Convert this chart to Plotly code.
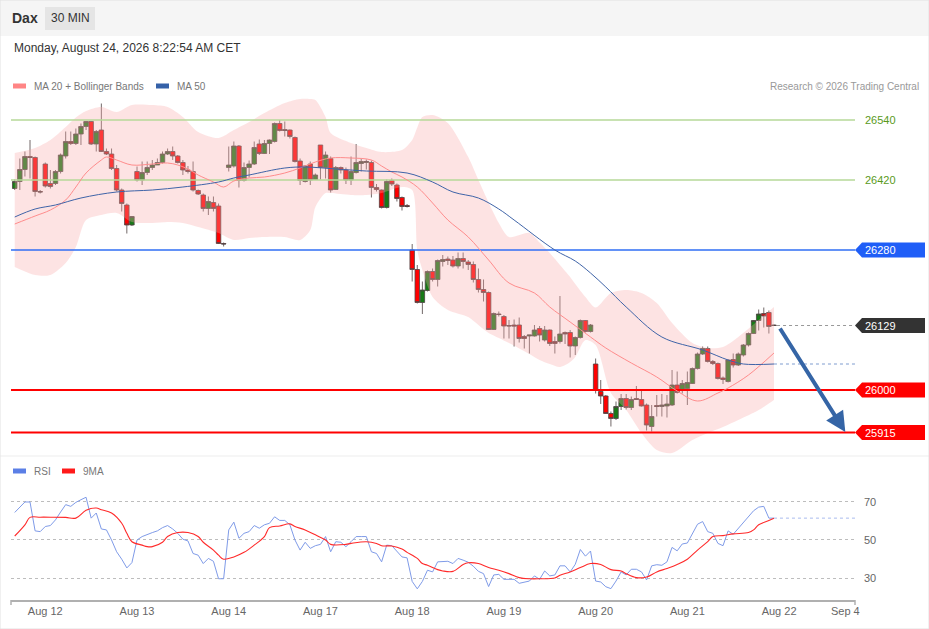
import plotly.graph_objects as go

W, H = 929, 629

# ---- price candles (30 min), index = candle number
candle_idx = list(range(1, 151))
opens = [26403, 26417, 26441, 26467, 26465, 26397, 26452, 26413, 26413, 26437,
         26468, 26497, 26493, 26512, 26527, 26537, 26492, 26520, 26477, 26472,
         26443, 26400, 26370, 26330, 26437, 26420, 26435, 26445, 26450, 26455,
         26472, 26477, 26468, 26455, 26440, 26437, 26399, 26390, 26363, 26375,
         26368, 26293, 26445, 26448, 26488, 26419, 26445, 26452, 26492, 26473,
         26493, 26497, 26533, 26521, 26520, 26505, 26458, 26417, 26452, 26421,
         26490, 26445, 26463, 26401, 26445, 26440, 26420, 26435, 26453, 26455,
         26455, 26405, 26400, 26365, 26419, 26410, 26385, 26369, 26280, 26241,
         26175, 26199, 26237, 26221, 26257, 26262, 26260, 26248, 26263, 26256,
         26251, 26221, 26201, 26195, 26121, 26152, 26147, 26129, 26130, 26130,
         26107, 26108, 26108, 26123, 26100, 26120, 26097, 26097, 26115, 26115,
         26088, 26105, 26139, 26117, 26052, 25997, 25988, 25953, 25943, 25967,
         25983, 25965, 25983, 25981, 25970, 25927, 25969, 25967, 25968, 25970,
         26010, 25999, 26003, 26013, 26043, 26072, 26083, 26057, 26053, 26024,
         26017, 26061, 26050, 26070, 26090, 26113, 26139, 26153, 26155, 26130]
highs = [26421, 26463, 26477, 26500, 26467, 26400, 26455, 26440, 26440, 26473,
         26517, 26517, 26523, 26533, 26538, 26538, 26520, 26573, 26483, 26483,
         26450, 26403, 26373, 26348, 26447, 26457, 26457, 26460, 26463, 26477,
         26483, 26487, 26470, 26460, 26448, 26457, 26401, 26393, 26387, 26387,
         26373, 26295, 26487, 26497, 26490, 26455, 26459, 26497, 26501, 26500,
         26501, 26535, 26540, 26537, 26521, 26507, 26463, 26450, 26457, 26433,
         26490, 26477, 26467, 26448, 26447, 26445, 26467, 26492, 26463, 26461,
         26459, 26412, 26401, 26421, 26423, 26413, 26387, 26372, 26292, 26250,
         26217, 26239, 26243, 26261, 26270, 26267, 26268, 26275, 26275, 26260,
         26257, 26243, 26221, 26197, 26155, 26157, 26150, 26140, 26141, 26145,
         26110, 26110, 26130, 26128, 26128, 26121, 26107, 26188, 26117, 26120,
         26107, 26141, 26140, 26132, 26063, 26020, 25990, 25957, 25977, 25992,
         25992, 25987, 26008, 26001, 25973, 25970, 25990, 25992, 25990, 26040,
         26037, 26020, 26037, 26045, 26075, 26087, 26087, 26060, 26055, 26027,
         26061, 26073, 26075, 26092, 26115, 26140, 26161, 26165, 26159, 26131]
lows = [26400, 26400, 26427, 26423, 26387, 26393, 26405, 26403, 26410, 26433,
        26463, 26490, 26490, 26490, 26520, 26490, 26477, 26476, 26470, 26440,
        26397, 26357, 26313, 26328, 26417, 26410, 26430, 26440, 26450, 26453,
        26470, 26460, 26453, 26430, 26433, 26397, 26390, 26357, 26350, 26357,
        26292, 26287, 26437, 26445, 26405, 26417, 26425, 26450, 26470, 26472,
        26472, 26495, 26517, 26507, 26503, 26455, 26410, 26415, 26410, 26420,
        26421, 26423, 26395, 26400, 26433, 26412, 26410, 26433, 26437, 26441,
        26385, 26397, 26363, 26363, 26408, 26377, 26359, 26365, 26217, 26173,
        26152, 26197, 26217, 26207, 26247, 26250, 26245, 26243, 26243, 26240,
        26215, 26195, 26177, 26120, 26120, 26147, 26103, 26103, 26087, 26095,
        26083, 26073, 26107, 26097, 26097, 26088, 26073, 26093, 26092, 26065,
        26070, 26103, 26115, 26115, 25993, 25972, 25952, 25927, 25940, 25960,
        25961, 25960, 25980, 25967, 25919, 25917, 25947, 25947, 25945, 25968,
        25993, 25993, 25970, 26012, 26041, 26070, 26055, 26050, 26021, 26012,
        26015, 26045, 26048, 26067, 26087, 26112, 26119, 26125, 26113, 26128]
closes = [26417, 26441, 26467, 26465, 26397, 26396, 26408, 26407, 26437, 26470,
          26497, 26493, 26512, 26527, 26537, 26492, 26517, 26477, 26472, 26443,
          26400, 26373, 26330, 26347, 26420, 26435, 26445, 26450, 26455, 26472,
          26477, 26468, 26455, 26440, 26437, 26400, 26392, 26363, 26377, 26363,
          26293, 26292, 26450, 26488, 26419, 26445, 26452, 26485, 26473, 26493,
          26500, 26533, 26519, 26519, 26507, 26457, 26419, 26448, 26420, 26430,
          26445, 26470, 26400, 26445, 26440, 26420, 26437, 26455, 26457, 26457,
          26405, 26401, 26365, 26417, 26412, 26383, 26367, 26367, 26241, 26175,
          26200, 26237, 26221, 26259, 26261, 26259, 26248, 26263, 26257, 26251,
          26221, 26201, 26195, 26121, 26153, 26151, 26128, 26128, 26128, 26103,
          26103, 26110, 26120, 26110, 26120, 26093, 26093, 26112, 26112, 26088,
          26105, 26139, 26117, 26130, 25999, 25988, 25953, 25943, 25967, 25983,
          25965, 25981, 25981, 25968, 25930, 25947, 25967, 25970, 25972, 26010,
          25995, 26013, 26015, 26043, 26072, 26083, 26057, 26053, 26023, 26021,
          26060, 26050, 26072, 26090, 26113, 26139, 26152, 26148, 26127, 26129]

# ---- Bollinger band (MA 20 +/- 2 sd)
band_idx = [1, 5, 8, 11, 13, 15, 18, 21, 24, 28, 31, 34, 37, 41, 44, 47, 50, 54, 57, 59,
            60, 62, 63, 67, 70, 73, 77, 79, 80, 81, 83, 86, 90, 92, 94, 96, 98, 102, 104, 106,
            108, 110, 111, 113, 115, 118, 121, 124, 127, 130, 134, 137, 140, 143, 147, 150]
band_upper = [26474, 26484, 26500, 26526, 26545, 26558, 26566, 26556, 26570, 26570,
              26566, 26546, 26516, 26504, 26520, 26536, 26554, 26574, 26582, 26582,
              26580, 26546, 26514, 26494, 26484, 26476, 26480, 26500, 26525, 26546,
              26550, 26534, 26466, 26420, 26375, 26334, 26306, 26314, 26295, 26274,
              26250, 26226, 26212, 26186, 26165, 26194, 26200, 26194, 26174, 26134,
              26094, 26084, 26086, 26106, 26140, 26166]
band_lower = [26246, 26230, 26230, 26254, 26286, 26340, 26350, 26354, 26336, 26334,
              26336, 26334, 26326, 26314, 26300, 26304, 26306, 26306, 26300, 26320,
              26366, 26394, 26394, 26390, 26390, 26394, 26406, 26400, 26280, 26240,
              26186, 26160, 26146, 26130, 26114, 26104, 26094, 26072, 26060, 26052,
              26046, 26056, 26066, 26100, 26090, 25994, 25960, 25914, 25880, 25874,
              25900, 25914, 25926, 25940, 25960, 25980]

ma20_idx = [1, 5, 8, 11, 13, 15, 18, 19, 21, 24, 28, 31, 33, 35, 37, 40, 42, 44, 47, 50,
            54, 57, 60, 63, 67, 71, 73, 75, 77, 80, 83, 86, 90, 94, 98, 103, 106, 110, 114, 117,
            122, 127, 131, 135, 139, 141, 145, 150]
ma20 = [26332, 26348, 26360, 26380, 26406, 26434, 26460, 26466, 26460, 26450,
        26452, 26454, 26450, 26442, 26430, 26416, 26406, 26418, 26424, 26426,
        26434, 26444, 26456, 26464, 26464, 26460, 26448, 26436, 26426, 26406,
        26374, 26340, 26306, 26260, 26214, 26194, 26166, 26136, 26106, 26084,
        26054, 26026, 25998, 25978, 25994, 26004, 26030, 26074]

ma50_idx = [1, 5, 9, 14, 21, 28, 34, 41, 44, 47, 54, 58, 64, 70, 78, 83, 87, 92, 96, 99,
            107, 111, 114, 117, 121, 128, 136, 141, 144, 150]
ma50 = [26346, 26362, 26370, 26384, 26396, 26400, 26406, 26416, 26424, 26430,
        26444, 26446, 26442, 26438, 26434, 26416, 26396, 26384, 26362, 26340,
        26280, 26258, 26234, 26206, 26166, 26106, 26080, 26060, 26052, 26052]

# ---- RSI panel
rsi = [64.5, 67.3, 70.0, 70.0, 54.8, 54.4, 57.1, 57.6, 60.6, 64.7,
       68.6, 67.7, 69.8, 71.2, 72.5, 61.5, 64.2, 55.8, 55.3, 50.0,
       43.8, 39.9, 35.3, 38.1, 50.0, 51.8, 53.0, 53.9, 54.8, 56.5,
       57.6, 55.8, 53.5, 50.4, 49.5, 42.9, 42.0, 37.6, 40.3, 38.8,
       29.6, 29.6, 55.3, 59.4, 50.9, 53.5, 54.4, 57.6, 56.2, 58.0,
       58.8, 62.2, 60.3, 60.3, 58.0, 50.0, 44.7, 48.8, 45.6, 47.0,
       47.7, 51.8, 43.8, 49.1, 48.8, 46.5, 49.1, 51.8, 51.8, 51.8,
       43.8, 42.9, 38.5, 47.3, 47.0, 43.8, 41.1, 40.6, 28.2, 24.3,
       28.2, 34.1, 33.2, 38.5, 38.8, 38.8, 37.6, 40.3, 39.4, 38.3,
       36.2, 33.5, 32.3, 25.5, 31.6, 31.9, 29.3, 29.3, 29.3, 27.2,
       27.9, 28.4, 31.1, 29.3, 33.7, 31.1, 31.6, 36.4, 36.4, 33.2,
       37.2, 45.0, 41.5, 44.2, 28.4, 27.9, 25.4, 24.4, 28.4, 33.2,
       31.6, 34.6, 34.6, 33.2, 29.0, 36.4, 37.0, 36.7, 38.5, 46.1,
       44.3, 47.9, 48.4, 53.5, 58.3, 59.7, 54.4, 53.5, 48.2, 47.0,
       54.8, 53.0, 56.2, 58.8, 62.4, 65.4, 67.3, 67.7, 61.5, 61.5]
rsi_ma_idx = [1, 3, 4, 6, 8, 11, 13, 15, 17, 18, 20, 22, 23, 24, 26, 27, 28, 30, 31, 33,
              35, 37, 38, 40, 41, 42, 44, 46, 48, 50, 51, 53, 55, 56, 58, 60, 62, 63, 66, 67,
              70, 72, 73, 75, 77, 78, 80, 81, 82, 84, 85, 87, 89, 90, 92, 94, 96, 98, 100, 102,
              104, 107, 108, 110, 112, 114, 116, 118, 120, 121, 123, 125, 127, 129, 131, 133,
              135, 137, 138, 140, 142, 145, 146, 147, 149, 150]
rsi_ma = [52.1, 58.0, 61.9, 62.0, 62.0, 61.9, 61.5, 65.6, 66.8, 65.9,
          64.2, 58.8, 53.5, 49.1, 47.3, 46.5, 46.5, 48.8, 51.8, 53.9,
          53.9, 51.8, 48.8, 44.7, 42.0, 39.9, 41.1, 43.5, 47.3, 51.8,
          56.5, 57.4, 58.5, 57.1, 55.3, 52.7, 50.0, 47.7, 47.7, 48.2,
          49.1, 48.2, 47.0, 46.8, 45.2, 43.5, 40.3, 37.6, 36.7, 34.4,
          33.7, 33.5, 37.1, 38.0, 37.6, 35.5, 34.1, 32.3, 30.2, 29.6,
          29.6, 30.0, 31.4, 33.2, 35.5, 37.6, 37.1, 34.4, 33.7, 32.3,
          30.2, 30.5, 33.2, 35.0, 37.1, 39.9, 44.7, 49.1, 51.8, 52.3,
          53.2, 53.9, 55.3, 58.0, 60.3, 61.5]

# ---- key levels and target
resistances = [26540, 26420]
pivot = 26280
supports = [26000, 25915]
last_price = 26129
arrow_from = (151, 26126)
arrow_to = (164, 25916)

tick_idx = [7, 25, 43, 61, 79, 97, 115, 133, 151, 164]
tick_text = ["Aug 12", "Aug 13", "Aug 14", "Aug 17", "Aug 18", "Aug 19",
             "Aug 20", "Aug 21", "Aug 22", "Sep 4"]
rsi_ticks = [30, 50, 70]

x_range = [0.27, 165.9]
price_range = [25868, 26640]
rsi_range = [18.42, 92.1]

FONT = "Liberation Sans, Arial, sans-serif"


def px(x):
    return x / W


def py(y):
    return 1 - y / H


fig = go.Figure()

# bollinger band fill
fig.add_trace(go.Scatter(x=band_idx, y=band_upper, mode="lines", line=dict(width=0, shape="spline", smoothing=0.8),
                         hoverinfo="skip", showlegend=False))
fig.add_trace(go.Scatter(x=band_idx, y=band_lower, mode="lines", line=dict(width=0, shape="spline", smoothing=0.8),
                         fill="tonexty", fillcolor="rgba(250,170,170,0.33)", hoverinfo="skip", showlegend=False))

# horizontal levels
for lv in resistances:
    fig.add_trace(go.Scatter(x=x_range, y=[lv, lv], mode="lines", line=dict(color="#b6d998", width=1.5),
                             hoverinfo="skip", showlegend=False))
fig.add_trace(go.Scatter(x=x_range, y=[pivot, pivot], mode="lines", line=dict(color="#2f6ef5", width=1.3),
                         hoverinfo="skip", showlegend=False))
for lv in supports:
    fig.add_trace(go.Scatter(x=x_range, y=[lv, lv], mode="lines", line=dict(color="#ff0000", width=2.2),
                             hoverinfo="skip", showlegend=False))

# moving averages
fig.add_trace(go.Scatter(x=ma20_idx, y=ma20, mode="lines", line=dict(color="#ff8c8c", width=1, shape="spline"),
                         hoverinfo="skip", showlegend=False))
fig.add_trace(go.Scatter(x=ma50_idx, y=ma50, mode="lines", line=dict(color="#3f64a8", width=1, shape="spline"),
                         hoverinfo="skip", showlegend=False))
fig.add_trace(go.Scatter(x=[ma50_idx[-1], x_range[1]], y=[ma50[-1], ma50[-1]], mode="lines",
                         line=dict(color="#7f9ccf", width=1, dash="dot"), hoverinfo="skip", showlegend=False))
fig.add_trace(go.Scatter(x=[candle_idx[-1] + 0.6, x_range[1]], y=[last_price, last_price], mode="lines",
                         line=dict(color="#999999", width=1, dash="dot"), hoverinfo="skip", showlegend=False))

# candles
fig.add_trace(go.Candlestick(
    x=candle_idx, open=opens, high=highs, low=lows, close=closes,
    increasing=dict(line=dict(color="#4e4242", width=0.8), fillcolor="#177a17"),
    decreasing=dict(line=dict(color="#4e4242", width=0.8), fillcolor="#ff0000"),
    whiskerwidth=0, showlegend=False, hoverinfo="skip"))

# rsi panel
fig.add_trace(go.Scatter(x=candle_idx, y=rsi, mode="lines", line=dict(color="#7f9be8", width=1),
                         xaxis="x2", yaxis="y2", hoverinfo="skip", showlegend=False))
fig.add_trace(go.Scatter(x=rsi_ma_idx, y=rsi_ma, mode="lines", line=dict(color="#ff2a2a", width=1.1, shape="spline"),
                         xaxis="x2", yaxis="y2", hoverinfo="skip", showlegend=False))
fig.add_trace(go.Scatter(x=[candle_idx[-1], x_range[1]], y=[rsi[-1], rsi[-1]], mode="lines",
                         line=dict(color="#a9bbee", width=1, dash="dot"),
                         xaxis="x2", yaxis="y2", hoverinfo="skip", showlegend=False))

shapes = []
annotations = []

# header band
shapes.append(dict(type="rect", xref="paper", yref="paper", x0=0, x1=1, y0=py(36), y1=1,
                   fillcolor="#f5f5f5", line=dict(width=0), layer="below"))
shapes.append(dict(type="rect", xref="paper", yref="paper", x0=px(45), x1=px(95), y0=py(30), y1=py(7),
                   fillcolor="#e5e5e5", line=dict(width=0), layer="below"))
annotations.append(dict(xref="paper", yref="paper", x=px(10), y=py(18), text="<b>Dax</b>", showarrow=False,
                        xanchor="left", yanchor="middle", font=dict(size=14, color="#333333")))
annotations.append(dict(xref="paper", yref="paper", x=px(70), y=py(18), text="30 MIN", showarrow=False,
                        xanchor="center", yanchor="middle", font=dict(size=12, color="#333333")))
annotations.append(dict(xref="paper", yref="paper", x=px(12), y=py(48),
                        text="Monday, August 24, 2026 8:22:54 AM CET", showarrow=False,
                        xanchor="left", yanchor="middle", font=dict(size=12, color="#333333")))


# legends
def legend_item(x0, y0, color, label):
    shapes.append(dict(type="rect", xref="paper", yref="paper", x0=px(x0), x1=px(x0 + 13),
                       y0=py(y0 + 2.5), y1=py(y0 - 2.5), fillcolor=color, line=dict(width=0)))
    annotations.append(dict(xref="paper", yref="paper", x=px(x0 + 19), y=py(y0), text=label, showarrow=False,
                            xanchor="left", yanchor="middle", font=dict(size=10, color="#777777")))


legend_item(13, 86, "#ff8585", "MA 20 + Bollinger Bands")
legend_item(156, 86, "#3561a8", "MA 50")
legend_item(13, 471, "#5b7fe6", "RSI")
legend_item(62, 471, "#ff1a1a", "9MA")
annotations.append(dict(xref="paper", yref="paper", x=px(921), y=py(86), text="Research \u00a9 2026 Trading Central",
                        showarrow=False, xanchor="right", yanchor="middle", font=dict(size=10, color="#999999")))

# separator and frame
shapes.append(dict(type="line", xref="paper", yref="paper", x0=0, x1=1, y0=py(456), y1=py(456),
                   line=dict(color="#ededed", width=1)))
shapes.append(dict(type="rect", xref="paper", yref="paper", x0=0, x1=1, y0=0, y1=1,
                   line=dict(color="#e2e2e2", width=1)))
for xe in (11, 855):
    shapes.append(dict(type="line", xref="paper", yref="paper", x0=px(xe), x1=px(xe), y0=py(600), y1=py(605),
                       line=dict(color="#b0b0b0", width=1.5)))

# right hand price tags
tag_h = 15
x_tip, x_sh, x_end = px(855), px(862), px(925)


def tag(level, color):
    path = (f"M {x_tip},{level} L {x_sh},{level + tag_h} L {x_end},{level + tag_h} "
            f"L {x_end},{level - tag_h} L {x_sh},{level - tag_h} Z")
    shapes.append(dict(type="path", xref="paper", yref="y", path=path, fillcolor=color, line=dict(width=0)))
    annotations.append(dict(xref="paper", yref="y", x=px(863), y=level, text=str(level), showarrow=False,
                            xanchor="left", yanchor="middle", font=dict(size=11, color="white")))


for lv in resistances:
    annotations.append(dict(xref="paper", yref="y", x=px(863), y=lv, text=str(lv), showarrow=False,
                            xanchor="left", yanchor="middle", font=dict(size=11, color="#5a9a1c")))
tag(pivot, "#1f5ef7")
tag(last_price, "#333333")
for lv in supports:
    tag(lv, "#ff0000")

# target arrow
annotations.append(dict(x=arrow_to[0], y=arrow_to[1], ax=arrow_from[0], ay=arrow_from[1],
                        xref="x", yref="y", axref="x", ayref="y", text="", showarrow=True,
                        arrowhead=2, arrowsize=1, arrowwidth=4, arrowcolor="#3565a6"))

fig.update_layout(
    width=W, height=H, autosize=False,
    margin=dict(l=0, r=0, t=0, b=0, pad=0, autoexpand=False),
    paper_bgcolor="white", plot_bgcolor="white",
    font=dict(family=FONT, color="#666666", size=11),
    showlegend=False,
    boxgap=0.02, boxgroupgap=0.1,
    shapes=shapes, annotations=annotations,
    xaxis=dict(domain=[px(11), px(855)], range=x_range, showgrid=False, zeroline=False, automargin=False,
               showticklabels=False, rangeslider=dict(visible=False), fixedrange=True),
    yaxis=dict(domain=[py(456), py(70)], range=price_range, showgrid=False, zeroline=False, automargin=False,
               showticklabels=False, fixedrange=True),
    xaxis2=dict(domain=[px(11), px(855)], range=x_range, anchor="y2", showgrid=False, zeroline=False,
                automargin=False, tickvals=tick_idx, ticktext=tick_text, ticks="", showline=True,
                linecolor="#b0b0b0", linewidth=2, tickfont=dict(size=11, color="#666666"), fixedrange=True),
    yaxis2=dict(domain=[py(600), py(460)], range=rsi_range, anchor="x2", side="right", automargin=False,
                tickvals=rsi_ticks, showgrid=True, gridcolor="#bdbdbd", griddash="dot", gridwidth=1,
                zeroline=False, ticks="", ticklabelstandoff=8,
                tickfont=dict(size=11, color="#666666"), fixedrange=True),
)

# the page has a default 8px body margin; drop it and redraw at the full size
fig.write_html("out.html", config=dict(displayModeBar=False, responsive=False),
               post_script=("document.body.style.margin='0';document.body.style.overflow='hidden';"
                            "Plotly.relayout('{plot_id}', {width: %d, height: %d});" % (W, H)))
